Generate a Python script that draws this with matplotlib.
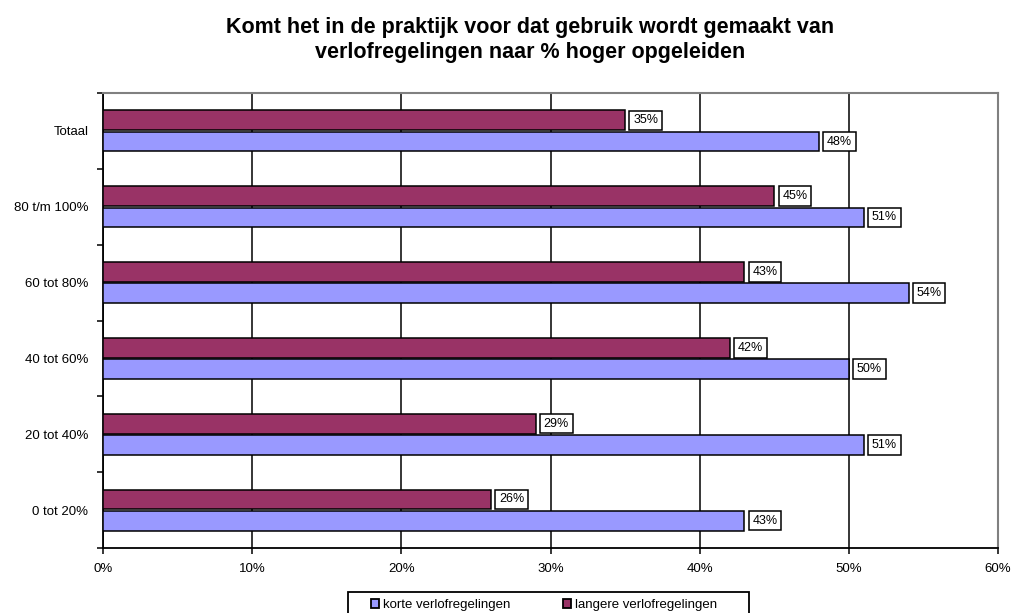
import numpy as np
import matplotlib
matplotlib.use('Agg')
import matplotlib.pyplot as plt
from matplotlib.patches import Patch, Rectangle
from matplotlib.ticker import FixedLocator, PercentFormatter

plt.rcParams['font.family'] = ['Liberation Sans', 'DejaVu Sans']

# categories listed bottom to top
categories = ['0 tot 20%', '20 tot 40%', '40 tot 60%', '60 tot 80%', '80 t/m 100%', 'Totaal']
korte = [43, 51, 50, 54, 51, 48]
langere = [26, 29, 42, 43, 45, 35]

col_korte = '#9999FF'
col_langere = '#993366'

fig = plt.figure(figsize=(10.16, 6.13), dpi=100)
ax = fig.add_axes([0.1014, 0.106, 0.8809, 0.7423])

y = np.arange(len(categories))
h = 0.26
off = 0.14
bars_k = ax.barh(y - off, korte, height=h, color=col_korte, edgecolor='black', linewidth=1.1, zorder=3)
bars_l = ax.barh(y + off, langere, height=h, color=col_langere, edgecolor='black', linewidth=1.1, zorder=3)

# value labels in small boxed callouts
for bars, vals in ((bars_k, korte), (bars_l, langere)):
    for b, v in zip(bars, vals):
        ax.annotate(f'{v}%', xy=(v, b.get_y() + b.get_height() / 2),
                    xytext=(8, 0), textcoords='offset pixels',
                    ha='left', va='center', fontsize=9, zorder=5,
                    bbox=dict(boxstyle='square,pad=0.3', fc='white', ec='black', lw=1.1))

ax.set_xlim(0, 60)
ax.set_ylim(-0.5, len(categories) - 0.5)
ax.xaxis.set_major_locator(FixedLocator(np.arange(0, 61, 10)))
ax.xaxis.set_major_formatter(PercentFormatter(decimals=0))
ax.set_yticks(y)
ax.set_yticklabels(categories)
ax.yaxis.set_minor_locator(FixedLocator(np.arange(-0.5, len(categories), 1.0)))

ax.tick_params(axis='y', which='major', length=0, pad=10.5, labelsize=9.5)
ax.tick_params(axis='y', which='minor', length=4, width=1.1, direction='out')
ax.tick_params(axis='x', which='major', length=4, width=1.1, direction='out', pad=7, labelsize=9.5)

ax.grid(axis='x', color='black', linewidth=1.1, zorder=1)
ax.set_axisbelow(True)

for s in ('top', 'right'):
    ax.spines[s].set_color('#808080')
    ax.spines[s].set_linewidth(1.5)
for s in ('left', 'bottom'):
    ax.spines[s].set_color('black')
    ax.spines[s].set_linewidth(1.3)

title_kw = dict(ha='center', va='baseline', fontsize=15.5, fontweight='bold')
fig.text(0.5217, 0.946, 'Komt het in de praktijk voor dat gebruik wordt gemaakt van', **title_kw)
fig.text(0.5217, 0.905, 'verlofregelingen naar % hoger opgeleiden', **title_kw)

handles = [Patch(facecolor=col_korte, edgecolor='black', linewidth=1.3, label='korte verlofregelingen'),
           Patch(facecolor=col_langere, edgecolor='black', linewidth=1.3, label='langere verlofregelingen')]
leg = fig.legend(handles=handles, loc='center left', bbox_to_anchor=(371 / 1016, 1 - 605 / 613),
                 ncol=2, fontsize=9.5, frameon=False,
                 handlelength=0.62, handleheight=0.62, handletextpad=0.3, columnspacing=4.0,
                 borderpad=0, borderaxespad=0)

# legend frame, running off the bottom edge
fig.patches.append(Rectangle((348 / 1016, -0.02), 401 / 1016, (613 - 592) / 613 + 0.02,
                             transform=fig.transFigure, fill=False, edgecolor='black',
                             linewidth=1.3, zorder=0))

fig.savefig('out.png', dpi=100)
